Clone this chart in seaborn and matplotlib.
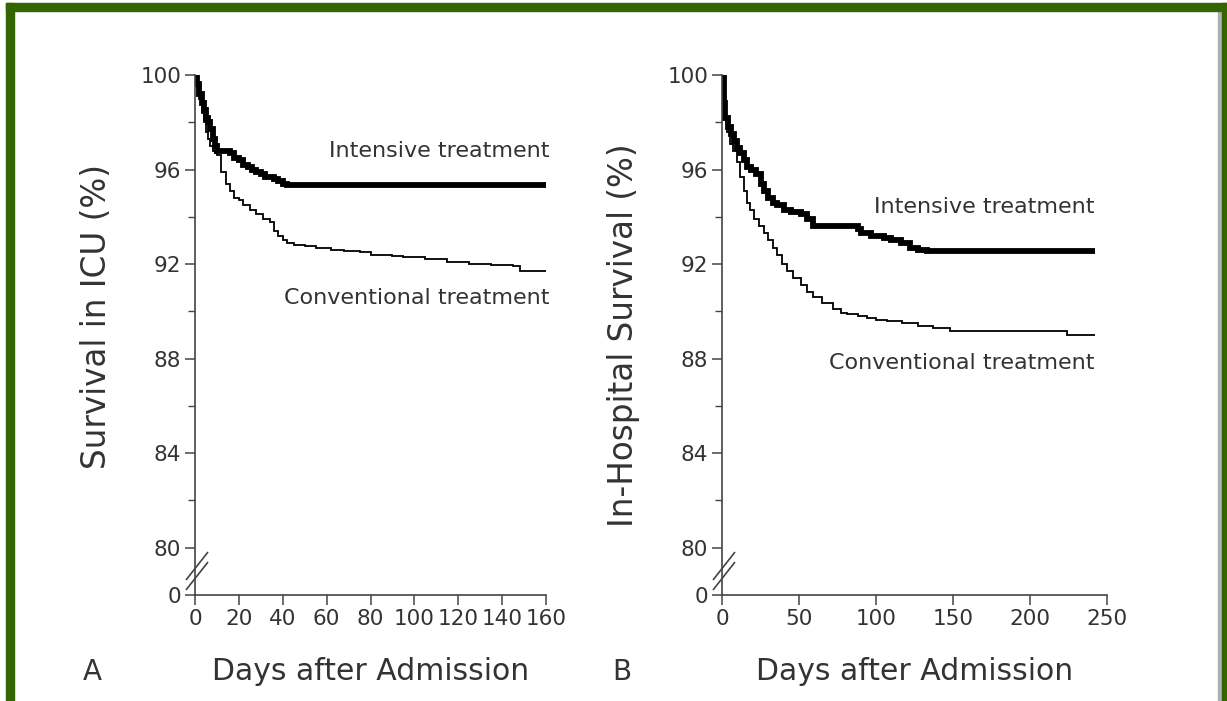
import numpy as np
import pandas as pd
import matplotlib
matplotlib.use("Agg")
import matplotlib.pyplot as plt
import seaborn as sns
from matplotlib.patches import Rectangle
from matplotlib.lines import Line2D

# Panel A: survival in ICU
icu_int_days = [0, 1, 2, 3, 4, 5, 6, 7, 8, 9, 10, 12, 14, 16, 18, 20, 22, 24, 26,
                28, 30, 32, 34, 36, 38, 40, 42, 160]
icu_int_surv = [100, 99.6, 99.2, 98.8, 98.5, 98.2, 98.0, 97.7, 97.3, 97.0, 96.8, 96.8,
                96.8, 96.7, 96.5, 96.4, 96.2, 96.1, 96.0, 95.9, 95.8, 95.7, 95.7, 95.6,
                95.5, 95.4, 95.35, 95.35]
icu_conv_days = [0, 1, 2, 3, 4, 5, 6, 7, 8, 9, 10, 12, 14, 16, 18, 20, 22, 25, 28, 31,
                 34, 36, 38, 40, 42, 45, 50, 55, 62, 68, 75, 80, 90, 95, 105, 115, 125,
                 135, 145, 148, 160]
icu_conv_surv = [100, 99.5, 99.0, 98.4, 98.0, 97.6, 97.3, 97.0, 96.8, 96.7, 96.6, 95.9,
                 95.4, 95.1, 94.8, 94.7, 94.5, 94.3, 94.1, 93.9, 93.8, 93.4, 93.2, 93.0,
                 92.9, 92.8, 92.75, 92.7, 92.6, 92.55, 92.5, 92.4, 92.35, 92.3, 92.2,
                 92.1, 92.0, 91.95, 91.9, 91.7, 91.7]

# Panel B: in-hospital survival
hosp_int_days = [0, 1, 2, 4, 6, 8, 10, 12, 14, 16, 19, 22, 25, 27, 30, 33, 36, 40, 45,
                 51, 55, 59, 72, 88, 90, 97, 105, 110, 116, 122, 127, 133, 242]
hosp_int_surv = [100, 98.8, 98.2, 97.8, 97.5, 97.2, 96.9, 96.7, 96.4, 96.1, 96.0, 95.8,
                 95.4, 95.1, 94.8, 94.6, 94.5, 94.3, 94.2, 94.1, 93.9, 93.6, 93.6, 93.5,
                 93.3, 93.2, 93.1, 93.0, 92.9, 92.7, 92.6, 92.55, 92.55]
hosp_conv_days = [0, 1, 3, 5, 7, 10, 12, 14, 16, 18, 21, 24, 27, 30, 33, 36, 39, 42, 46,
                  51, 55, 59, 65, 72, 77, 81, 88, 94, 100, 107, 117, 127, 137, 148, 219,
                  224, 242]
hosp_conv_surv = [100, 98.2, 97.6, 97.1, 96.8, 96.3, 95.7, 95.1, 94.6, 94.3, 93.9, 93.6,
                  93.3, 93.0, 92.7, 92.4, 92.0, 91.7, 91.4, 91.1, 90.8, 90.6, 90.35, 90.1,
                  89.95, 89.9, 89.8, 89.7, 89.65, 89.6, 89.5, 89.4, 89.3, 89.15, 89.15,
                  89.0, 89.0]

y_ticks = [0, 80, 84, 88, 92, 96, 100]
y_minor = [82, 86, 90, 94, 98]
x_ticks_a = [0, 20, 40, 60, 80, 100, 120, 140, 160]
x_ticks_b = [0, 50, 100, 150, 200, 250]

sns.set_style("ticks")
plt.rcParams["font.family"] = ["DejaVu Sans"]
plt.rcParams["lines.solid_capstyle"] = "butt"
plt.rcParams["lines.solid_joinstyle"] = "miter"

TXT = "#333333"
AX = "#444444"


def fwd(y):
    y = np.asarray(y, dtype=float)
    return np.where(y >= 80, y, 78 + y * 2 / 80)


def inv(t):
    t = np.asarray(t, dtype=float)
    return np.where(t >= 80, t, (t - 78) * 40)


def draw_panel(ax, d_int, s_int, d_conv, s_conv, xmax, xticks, ylabel):
    sns.lineplot(x=d_conv, y=s_conv, ax=ax, color="black", linewidth=1.3,
                 drawstyle="steps-post", estimator=None, legend=False,
                 solid_capstyle="butt", solid_joinstyle="miter")
    sns.lineplot(x=d_int, y=s_int, ax=ax, color="black", linewidth=4.2,
                 drawstyle="steps-post", estimator=None, legend=False,
                 solid_capstyle="butt", solid_joinstyle="miter")
    ax.set_yscale("function", functions=(fwd, inv))
    ax.set_ylim(0, 100)
    ax.set_xlim(0, xmax)
    ax.set_yticks(y_ticks)
    ax.set_yticks(y_minor, minor=True)
    ax.set_xticks(xticks)
    ax.set_yticklabels([str(v) for v in y_ticks])
    ax.set_xticklabels([str(v) for v in xticks])
    sns.despine(ax=ax)
    for s in ("left", "bottom"):
        ax.spines[s].set_color(AX)
        ax.spines[s].set_linewidth(1.2)
    ax.tick_params(which="major", direction="out", length=7, width=1.1, color=AX,
                   labelsize=15.5, labelcolor=TXT, pad=3)
    ax.tick_params(which="minor", axis="y", direction="out", length=5, width=1.0,
                   color=AX)
    ax.set_xlabel("Days after Admission", fontsize=21.5, color=TXT)
    ax.set_ylabel(ylabel, fontsize=23.5, color=TXT)
    ax.xaxis.set_label_coords(0.5, -0.12)

    # axis break marks
    w, h = ax.bbox.width, ax.bbox.height
    for dy in (0, -10):
        ax.add_line(Line2D([-9 / w, 13 / w], [(15 + dy) / h, (43 + dy) / h],
                           transform=ax.transAxes, color=AX, lw=1.2, clip_on=False))


fig = plt.figure(figsize=(12.27, 7.01), dpi=100)
ax_a = fig.add_axes([195 / 1227, 1 - 595 / 701, 351 / 1227, 520 / 701])
ax_b = fig.add_axes([722 / 1227, 1 - 595 / 701, 385 / 1227, 520 / 701])

draw_panel(ax_a, icu_int_days, icu_int_surv, icu_conv_days, icu_conv_surv,
           160, x_ticks_a, "Survival in ICU (%)")
draw_panel(ax_b, hosp_int_days, hosp_int_surv, hosp_conv_days, hosp_conv_surv,
           250, x_ticks_b, "In-Hospital Survival (%)")
ax_a.yaxis.set_label_coords(-0.234, 0.535)
ax_b.yaxis.set_label_coords(-0.213, 0.5)

ax_a.text(161.5, 96.8, "Intensive treatment", ha="right", va="center",
          fontsize=16, color=TXT)
ax_a.text(161.5, 90.55, "Conventional treatment", ha="right", va="center",
          fontsize=16, color=TXT)
ax_b.text(242, 94.4, "Intensive treatment", ha="right", va="center",
          fontsize=16, color=TXT)
ax_b.text(242, 87.8, "Conventional treatment", ha="right", va="center",
          fontsize=16, color=TXT)

fig.text(92 / 1227, 1 - 672 / 701, "A", ha="center", va="center", fontsize=20, color=TXT)
fig.text(622 / 1227, 1 - 672 / 701, "B", ha="center", va="center", fontsize=20, color=TXT)

# green frame
green = "#336600"
W, H = 1227, 701
fig.patches.append(Rectangle((6 / W, 1 - 11 / H), 1221 / W, 8 / H, transform=fig.transFigure,
                             color=green, zorder=5))
fig.patches.append(Rectangle((6 / W, 0), 8 / W, 1 - 3 / H, transform=fig.transFigure,
                             color=green, zorder=5))
fig.patches.append(Rectangle((1222 / W, 0), 5 / W, 1 - 3 / H, transform=fig.transFigure,
                             color=green, zorder=5))
fig.patches.append(Rectangle((1218 / W, 0), 4 / W, 1 - 11 / H, transform=fig.transFigure,
                             color="#b0b0b0", zorder=4))

fig.savefig("out.png", dpi=100)
